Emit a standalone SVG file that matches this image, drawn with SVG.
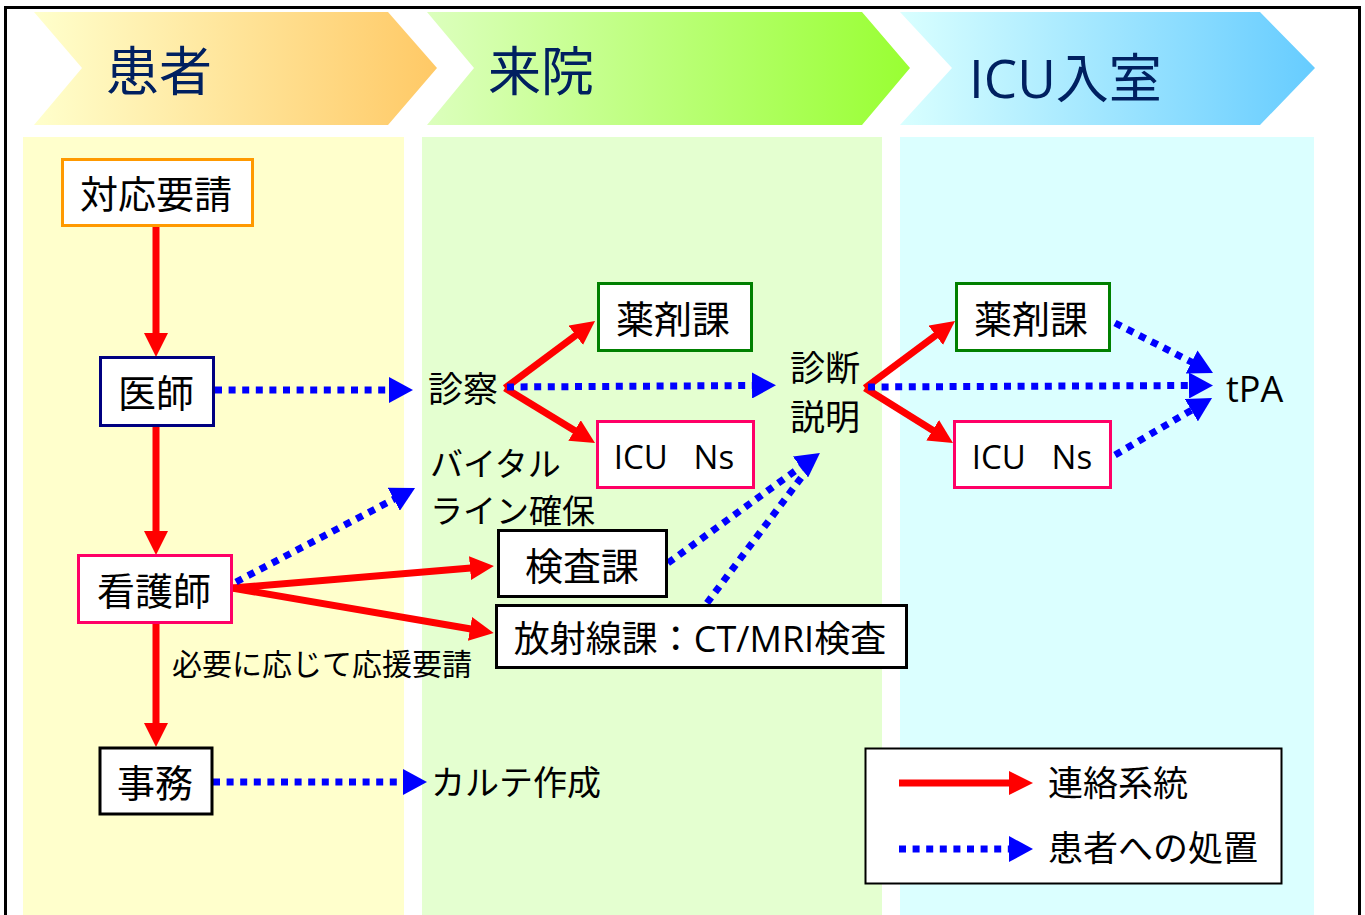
<svg xmlns="http://www.w3.org/2000/svg" width="1365" height="915" viewBox="0 0 1365 915">
<style>
text{font-family:"Open Sans","Noto Sans CJK JP",sans-serif;fill:#000;dominant-baseline:central}
.hd{font-size:53px;fill:#002060}
.bx{font-size:38px;text-anchor:middle}
.lb{font-size:35px}
.sm{font-size:30px}
.node{fill:#fff;stroke-width:3}
.red{stroke:#ff0000;stroke-width:7;fill:none}
.blue{stroke:#0000ff;stroke-width:7;fill:none;stroke-dasharray:7 6.6}
</style>
<defs>
<linearGradient id="g1"><stop offset="0" stop-color="#ffffcc"/><stop offset="1" stop-color="#ffc966"/></linearGradient>
<linearGradient id="g2"><stop offset="0" stop-color="#dcffbd"/><stop offset="1" stop-color="#99ff33"/></linearGradient>
<linearGradient id="g3"><stop offset="0" stop-color="#d9ffff"/><stop offset="1" stop-color="#66ccff"/></linearGradient>
<marker id="ar" viewBox="0 0 24 24" refX="1" refY="12" markerWidth="24" markerHeight="24" markerUnits="userSpaceOnUse" orient="auto"><path d="M0,0 L24,12 L0,24 z" fill="#ff0000"/></marker>
<marker id="ab" viewBox="0 0 24 26" refX="1" refY="13" markerWidth="24" markerHeight="26" markerUnits="userSpaceOnUse" orient="auto"><path d="M0,0 L24,13 L0,26 z" fill="#0000ff"/></marker>
</defs>
<rect x="0" y="0" width="1365" height="915" fill="#fff"/>
<rect x="5.5" y="7.5" width="1354" height="920" fill="none" stroke="#000" stroke-width="3"/>
<g id="columns">
<rect x="23" y="137" width="381" height="790" fill="#ffffcc"/>
<rect x="422" y="137" width="460" height="790" fill="#e4ffd0"/>
<rect x="900" y="137" width="414" height="790" fill="#dbffff"/>
</g>
<g id="header-1"><polygon points="34,12 388,12 437,68 388,125 34,125 82,68" fill="url(#g1)"/><text class="hd" x="106" y="70">患者</text></g>
<g id="header-2"><polygon points="427,12 862,12 910,68 862,125 427,125 474,68" fill="url(#g2)"/><text class="hd" x="488" y="70">来院</text></g>
<g id="header-3"><polygon points="900,12 1260,12 1315,68 1260,125 900,125 952,68" fill="url(#g3)"/><text class="hd" x="969" y="77">ICU入室</text></g>

<g id="connectors">
<line class="red" x1="156" y1="227" x2="156" y2="334" marker-end="url(#ar)"/>
<line class="red" x1="156" y1="427" x2="156" y2="532" marker-end="url(#ar)"/>
<line class="red" x1="156" y1="624" x2="156" y2="724" marker-end="url(#ar)"/>
<line class="red" x1="232" y1="588" x2="471" y2="568" marker-end="url(#ar)"/>
<line class="red" x1="232" y1="588" x2="471" y2="629" marker-end="url(#ar)"/>
<line class="red" x1="505" y1="388" x2="576.6" y2="334.7" marker-end="url(#ar)"/>
<line class="red" x1="505" y1="388" x2="575.4" y2="431" marker-end="url(#ar)"/>
<line class="red" x1="865" y1="388" x2="936.6" y2="334.7" marker-end="url(#ar)"/>
<line class="red" x1="865" y1="388" x2="933.5" y2="430.8" marker-end="url(#ar)"/>
<line class="blue" x1="215" y1="390" x2="390" y2="390" marker-end="url(#ab)"/>
<line class="blue" x1="236" y1="582" x2="394.7" y2="498.8" marker-end="url(#ab)"/>
<line class="blue" x1="507" y1="387" x2="753" y2="385.5" marker-end="url(#ab)"/>
<line class="blue" x1="668" y1="563" x2="801.3" y2="466.4" marker-end="url(#ab)"/>
<line class="blue" x1="707" y1="603" x2="807" y2="470"/>
<line class="blue" x1="868" y1="387" x2="1190" y2="385.5" marker-end="url(#ab)"/>
<line class="blue" x1="1115" y1="323" x2="1192.5" y2="362.5" marker-end="url(#ab)"/>
<line class="blue" x1="1115" y1="455" x2="1192.2" y2="409.7" marker-end="url(#ab)"/>
<line class="blue" x1="213" y1="782" x2="404" y2="782" marker-end="url(#ab)"/>
</g>

<g id="n-taiou"><rect class="node" x="62.5" y="159.5" width="190" height="66" stroke="#ff9900"/><text class="bx" x="156" y="193">対応要請</text></g>
<g id="n-ishi"><rect class="node" x="100.5" y="357.5" width="113" height="68" stroke="#000080"/><text class="bx" x="156" y="392">医師</text></g>
<g id="n-kangoshi"><rect class="node" x="78.5" y="555.5" width="153" height="67" stroke="#ff0066"/><text class="bx" x="154" y="590">看護師</text></g>
<g id="n-jimu"><rect class="node" x="100" y="748" width="112" height="66" stroke="#000" stroke-width="4"/><text class="bx" x="155" y="782">事務</text></g>
<g id="n-shinsatsu"><text class="lb" x="428" y="388">診察</text></g>
<g id="n-vital"><text class="lb" x="430" y="463" style="font-size:33px">バイタル<tspan x="430" y="510">ライン確保</tspan></text></g>
<g id="n-karte"><text class="lb" x="431" y="782" style="font-size:34px">カルテ作成</text></g>
<g id="n-yakuzai1"><rect class="node" x="598.5" y="283.5" width="153" height="67" stroke="#008000"/><text class="bx" x="673" y="318">薬剤課</text></g>
<g id="n-icu1"><rect class="node" x="597.5" y="421.5" width="156" height="66" stroke="#ff0066"/><text class="bx" x="674" y="456" style="font-size:33px" xml:space="preserve">ICU   Ns</text></g>
<g id="n-kensa"><rect class="node" x="498.5" y="530.5" width="168" height="66" stroke="#000"/><text class="bx" x="582" y="565">検査課</text></g>
<g id="n-hoshasen"><rect class="node" x="496.5" y="605.5" width="410" height="62" stroke="#000"/><text class="bx" x="700" y="638" style="font-size:36px">放射線課：CT/MRI検査</text></g>
<g id="n-shindan"><text class="lb" x="790" y="367">診断<tspan x="790" y="416">説明</tspan></text></g>
<g id="n-yakuzai2"><rect class="node" x="956.5" y="283.5" width="153" height="67" stroke="#008000"/><text class="bx" x="1031" y="318">薬剤課</text></g>
<g id="n-icu2"><rect class="node" x="954.5" y="421.5" width="156" height="66" stroke="#ff0066"/><text class="bx" x="1032" y="456" style="font-size:33px" xml:space="preserve">ICU   Ns</text></g>
<g id="n-tpa"><text class="lb" x="1226" y="388" style="font-size:36px">tPA</text></g>
<g id="n-note"><text class="sm" x="172" y="663">必要に応じて応援要請</text></g>
<g id="legend">
<rect x="865.5" y="748.5" width="416" height="135" fill="#fff" stroke="#000" stroke-width="2"/>
<line class="red" x1="899" y1="783" x2="1010" y2="783" marker-end="url(#ar)"/>
<line class="blue" x1="899" y1="849" x2="1010" y2="849" marker-end="url(#ab)"/>
<text class="lb" x="1048" y="782">連絡系統</text>
<text class="lb" x="1048" y="847">患者への処置</text>
</g>
</svg>
